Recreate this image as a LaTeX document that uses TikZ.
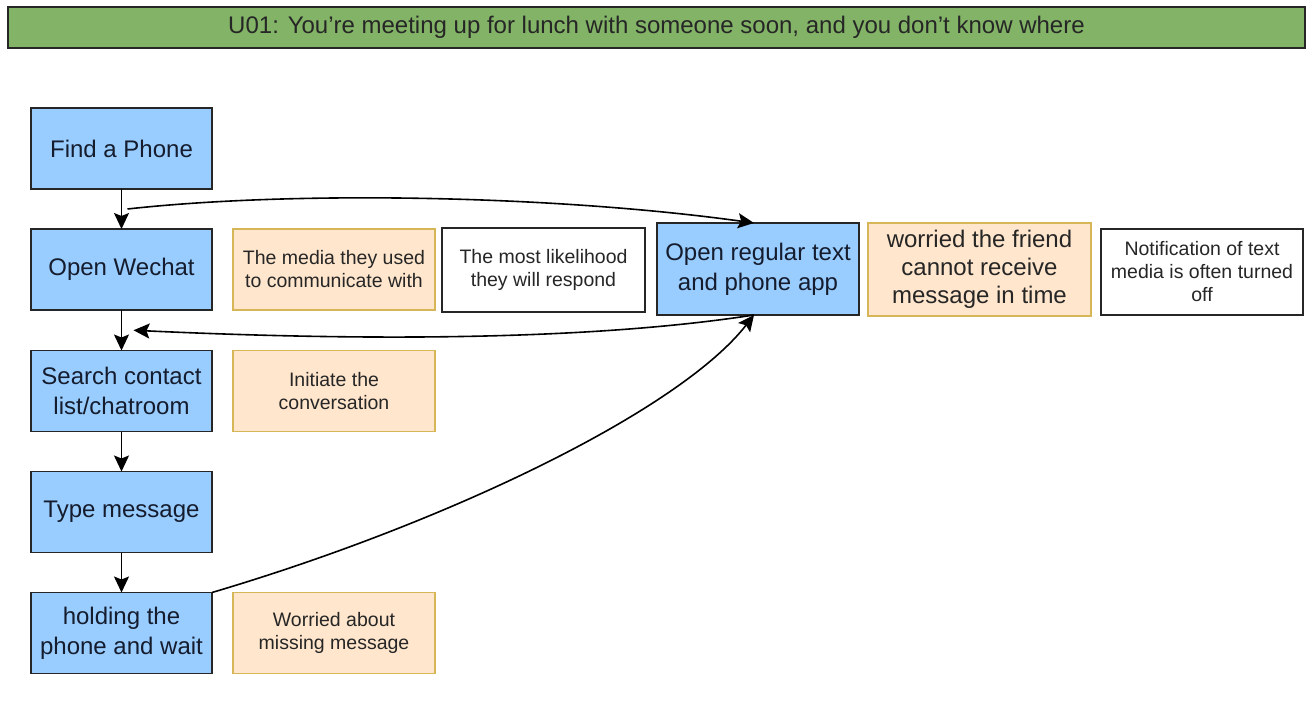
\documentclass[tikz,border=0pt]{standalone}
\usepackage{fontspec}
\setmainfont{Liberation Sans}
\usetikzlibrary{arrows.meta,calc}
\definecolor{bluefill}{RGB}{153,204,255}
\definecolor{orangefill}{RGB}{255,230,204}
\definecolor{orangeline}{RGB}{214,182,86}
\definecolor{greenfill}{RGB}{130,179,102}
\definecolor{txtdark}{RGB}{20,28,45}
\tikzset{
  every node/.style={inner sep=0pt, outer sep=0pt, align=center},
  bluebox/.style={draw=black!85, line width=1.4pt, fill=bluefill, text=txtdark,
    font=\fontsize{24}{30}\selectfont},
  orangebox/.style={draw=orangeline, line width=1.4pt, fill=orangefill, text=black!85,
    font=\fontsize{19.5}{23}\selectfont},
  whitebox/.style={draw=black!85, line width=1.4pt, fill=white, text=black!85,
    font=\fontsize{19.5}{23}\selectfont},
  titlebox/.style={draw=black!85, line width=1.4pt, fill=greenfill, text=black!85,
    font=\fontsize{24}{28}\selectfont},
  conn/.style={draw=black, line width=1.6pt, -{Stealth[length=16pt,width=15pt,inset=3pt]}}
}
\begin{document}
\begin{tikzpicture}[x=1pt,y=-1pt]
\useasboundingbox[fill=white] (0,0) rectangle (1314,704);
\node[titlebox, minimum width=1297pt, minimum height=41pt] (title) at (656.5,27.5)
  {U01: You’re meeting up for lunch with someone soon, and you don’t know where};
% left column
\node[bluebox, minimum width=181pt, minimum height=81pt] (find) at (121.5,148.5) {Find a Phone};
\node[bluebox, minimum width=181pt, minimum height=81pt] (wechat) at (121.5,269.5) {Open Wechat};
\node[bluebox, minimum width=181pt, minimum height=81pt] (search) at (121.5,391) {Search contact\\list/chatroom};
\node[bluebox, minimum width=181pt, minimum height=81pt] (type) at (121.5,512) {Type message};
\node[bluebox, minimum width=181pt, minimum height=81pt] (hold) at (121.5,633) {holding the\\phone and wait};
% second column
\node[orangebox, minimum width=202pt, minimum height=81pt] (media) at (334,269.5) {The media they used\\to communicate with};
\node[orangebox, minimum width=202pt, minimum height=81pt] (initiate) at (334,391) {Initiate the\\conversation};
\node[orangebox, minimum width=202pt, minimum height=81pt] (missing) at (334,633) {Worried about\\missing message};
% row
\node[whitebox, minimum width=203pt, minimum height=84pt] (likely) at (543.5,270) {The most likelihood\\they will respond};
\node[bluebox, minimum width=202pt, minimum height=92pt] (open) at (758,269) {Open regular text\\and phone app};
\node[orangebox, font=\fontsize{24}{28}\selectfont, minimum width=223pt, minimum height=93pt] (friend) at (979.5,269.5) {worried the friend\\cannot receive\\message in time};
\node[whitebox, minimum width=202pt, minimum height=86pt] (notif) at (1202,272) {Notification of text\\media is often turned\\off};
% connectors
\coordinate (j1) at ($(find.south)!0.5!(wechat.north)$);
\coordinate (j2) at ($(wechat.south)!0.5!(search.north)+(12,0)$);
\draw[conn] (find) -- (wechat);
\draw[conn] (wechat) -- (search);
\draw[conn] (search) -- (type);
\draw[conn] (type) -- (hold);
\draw[conn] ($(j1)+(6,0)$) .. controls (300,190) and (560,196) .. ($(open.north)+(-4,0)$);
\draw[conn] ($(open.south)+(-4,0)$) .. controls (560,345) and (300,338) .. (j2);
\draw[conn] (hold.north east) .. controls (450,522) and (680,410) .. ($(open.south)+(-4,0)$);
\end{tikzpicture}
\end{document}
